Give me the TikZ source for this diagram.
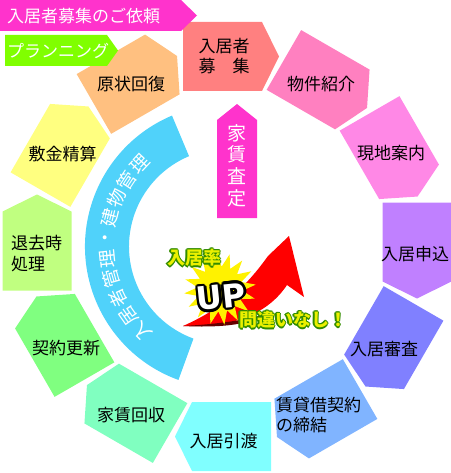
\documentclass[tikz,border=0pt]{standalone}
\usepackage{fontspec}
\newfontfamily\jp{Noto Sans CJK JP}
\newfontfamily\dv{DejaVu Sans}
\usetikzlibrary{calc,shapes.geometric}
\definecolor{pA}{RGB}{255,128,128}
\definecolor{pB}{RGB}{255,128,192}
\definecolor{pC}{RGB}{255,136,230}
\definecolor{pD}{RGB}{192,128,255}
\definecolor{pE}{RGB}{128,128,255}
\definecolor{pF}{RGB}{128,180,255}
\definecolor{pG}{RGB}{128,255,255}
\definecolor{pH}{RGB}{128,255,192}
\definecolor{pI}{RGB}{128,255,128}
\definecolor{pJ}{RGB}{192,255,128}
\definecolor{pK}{RGB}{255,255,128}
\definecolor{pL}{RGB}{255,192,128}
\definecolor{mag}{RGB}{255,51,204}
\definecolor{lime}{RGB}{128,255,0}
\definecolor{sky}{RGB}{80,210,250}
\definecolor{ylw}{RGB}{235,240,0}
\definecolor{grn}{RGB}{50,140,0}
\begin{document}
\begin{tikzpicture}[x=1pt, y=1pt,
	lbl/.style={font=\jp\fontsize{17}{20.5}\selectfont, inner sep=0pt, align=center},
	wlbl/.style={lbl, text=white},
	pop/.style={font=\jp\bfseries\fontsize{18}{18}\selectfont, inner sep=0pt},
	big/.style={font=\dv\bfseries\fontsize{32}{32}\selectfont, inner sep=0pt, rotate=6}]
			\useasboundingbox (0,0) rectangle (450,-473);
			\coordinate (c) at (227,-246.5);
			
			\foreach \a/\col in {90/pA,60/pB,30/pC,0/pD,-30/pE,-60/pF,-90/pG,-120/pH,-150/pI,180/pJ,150/pK,120/pL}
				\fill[\col, shift={(c)}, rotate=\a-90] (-44,155.5) -- (35,155.5) -- (52,190) -- (35,224.5) -- (-44,224.5) -- cycle;
			
			\node[lbl] (p1) at (224,-56) {入居者\\募　集};
			\node[lbl] (p2) at (321,-84.5) {物件紹介};
			\node[lbl] (p3) at (391,-153) {現地案内};
			\node[lbl] (p4) at (415,-254.5) {入居申込};
			\node[lbl] (p5) at (384,-349.5) {入居審査};
			\node[lbl, align=left, anchor=west] (p6) at (276,-415) {賃貸借契約\\の締結};
			\node[lbl] (p7) at (223.5,-441.5) {入居引渡};
			\node[lbl] (p8) at (131,-415.5) {家賃回収};
			\node[lbl] (p9) at (66,-348) {契約更新};
			\node[lbl, align=left, anchor=west] (p10) at (11,-253.5) {退去時\\処理};
			\node[lbl] (p11) at (62.5,-154.5) {敷金精算};
			\node[lbl] (p12) at (131,-84) {原状回復};
			
			\fill[mag] (0,0) -- (181,0) -- (197,-15.5) -- (181,-31) -- (0,-31) -- cycle;
			\node[wlbl, anchor=west] (b1) at (7,-16) {入居者募集のご依頼};
			\fill[lime] (5,-35) -- (107,-35) -- (118,-50.5) -- (107,-66) -- (5,-66) -- cycle;
			\node[wlbl, anchor=west] (b2) at (7,-50.5) {プランニング};
			
			\fill[sky] ($(c)+(250:142)$) arc[start angle=250, end angle=112.8, radius=142] -- ($(c)+(112.8:98)$) arc[start angle=112.8, end angle=250, radius=98] -- cycle;
			\foreach \ch [count=\i, evaluate=\i as \t using 234.8-9.8*\i] in {入,居,者,管,理,・,建,物,管,理}
				\node[wlbl, font=\jp\fontsize{18.5}{18.5}\selectfont, rotate=\t-90] (k\i) at ($(c)+(\t:120)$) {\ch};
			
			\fill[mag] (217,-218) -- (217,-120) -- (237,-104) -- (257,-120) -- (257,-218) -- cycle;
			\node[wlbl, font=\jp\fontsize{19}{21.7}\selectfont] (b3) at (237,-165.5) {家\\賃\\査\\定};
			
			\fill[red] (183,-326) .. controls (225,-328) and (265,-318) .. (287,-285) -- (304,-297) -- (289,-236) -- (268,-256) .. controls (250,-281) and (228,-306) .. (183,-326) -- cycle;
			\fill[red!40!black] (183,-326) .. controls (225,-328) and (250,-324) .. (266,-314) .. controls (245,-320) and (220,-324) .. (183,-326) -- cycle;
			\node[star, star points=16, star point ratio=1.6, fill=yellow, minimum size=72pt, inner sep=0pt, rotate=7] (s) at (220,-289) {};
			
			\foreach \d in {0,30,...,330}
				\node[big, text=black] (u\d) at ($(221,-297)+(\d:2.6)$) {UP};
			\node[big, text=white] (u) at (221,-297) {UP};
			
			\foreach \d in {0,45,...,315} {
				\node[pop, text=grn] (r\d) at ($(194,-258)+(\d:1.3)$) {入居率};
				\node[pop, text=grn] (m\d) at ($(293,-320)+(\d:1.3)$) {問違いなし！};
			}
			\node[pop, text=ylw] (r) at (194,-258) {入居率};
			\node[pop, text=ylw] (m) at (293,-320) {問違いなし！};
			
		\end{tikzpicture}
\end{document}
